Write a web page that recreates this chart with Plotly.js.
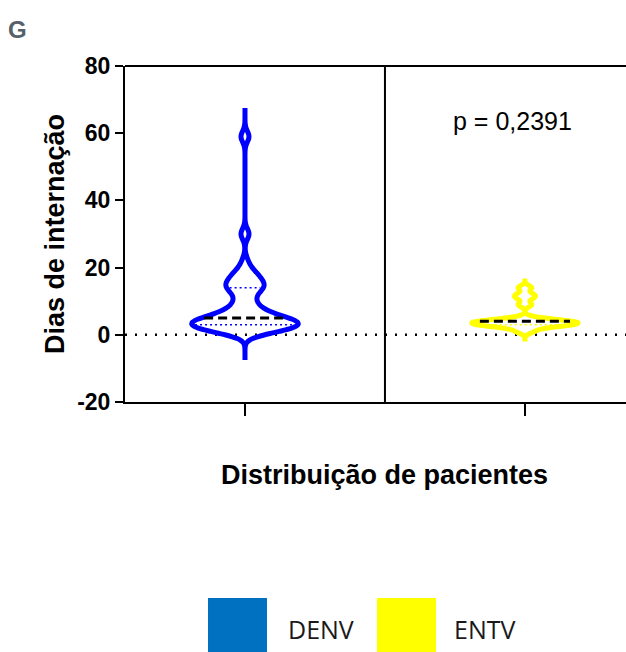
<!DOCTYPE html>
<html>
<head>
<meta charset="utf-8">
<script src="https://cdn.plot.ly/plotly-3.0.1.min.js"></script>
<style>
  html, body { margin: 0; padding: 0; background: #ffffff; }
  #chart { width: 626px; height: 652px; }
</style>
</head>
<body>
<div id="chart"></div>
<script>
// ---- data ----
const categories = ['DENV', 'ENTV'];
const denvDays = [1, 1, 1, 1, 1, 1,
                  2, 2, 2, 2, 2, 2, 2,
                  3, 3, 3, 3, 3, 3, 3, 3,
                  4, 4, 4, 4, 4, 4, 4, 4,
                  5, 5, 5, 5, 5, 5,
                  6, 6, 6, 7, 7, 7, 8, 8, 9, 10, 10, 11, 12, 13, 13,
                  14, 14, 14, 15, 15, 15, 16, 16, 17, 17, 18, 18, 19, 20, 22,
                  30, 30, 59, 59];
const entvDays = [1, 2, 3, 3, 3, 3, 3, 4, 4, 4, 4, 4, 5, 9, 11, 12, 14];
const yTickVals = [-20, 0, 20, 40, 60, 80];
const yTickText = ['-20', '0', '20', '40', '60', '80'];
const pValueText = 'p = 0,2391';
const panelLabel = 'G';
const xTitle = 'Distribuição de pacientes';
const yTitle = 'Dias de internação';

// ---- styling ----
const seriesColors = ['#0000FF', '#FFFF00'];
const legendColors = ['#0070C0', '#FFFF00'];
const bandwidths = [1.6, 0.7];
const spans = [[-7.5, 67.5], [-2, 16]];
const violinWidth = 0.38;
const outlineWidth = 5;
const FONT = 'Liberation Sans, Arial, sans-serif';

// gaussian KDE identical to Plotly's violin kernel
function kde(vals, bw) {
  const n = vals.length;
  return function (t) {
    let s = 0;
    for (const v of vals) {
      const u = (t - v) / bw;
      s += Math.exp(-0.5 * u * u) / Math.sqrt(2 * Math.PI);
    }
    return s / (n * bw);
  };
}
function maxKDE(f, span, bw) {
  const dist = span[1] - span[0];
  const n = Math.ceil(dist / (bw / 3));
  const step = dist / n;
  let m = 0;
  for (let t = span[0]; t < span[1] + step / 2; t += step) m = Math.max(m, f(t));
  return m;
}
// quantile, (n+1)p method
function quantile(vals, p) {
  const s = vals.slice().sort((a, b) => a - b);
  const pos = (s.length + 1) * p - 1;
  const lo = Math.max(0, Math.min(s.length - 1, Math.floor(pos)));
  const hi = Math.max(0, Math.min(s.length - 1, Math.ceil(pos)));
  return s[lo] + (s[hi] - s[lo]) * (pos - Math.floor(pos));
}

const allSeries = [denvDays, entvDays];
const traces = allSeries.map((vals, i) => ({
  type: 'violin',
  name: categories[i],
  x0: categories[i],
  y: vals,
  bandwidth: bandwidths[i],
  spanmode: 'manual',
  span: spans[i],
  width: violinWidth,
  side: 'both',
  points: false,
  box: { visible: false },
  meanline: { visible: false },
  line: { color: seriesColors[i], width: outlineWidth },
  fillcolor: 'rgba(255,255,255,0)',
  hoverinfo: 'skip',
  showlegend: false
}));

const shapes = [];
const pxPerUnit = 280; // approx data->pixel on x, for trimming line ends inside outline
// zero reference line (dotted)
shapes.push({ type: 'line', xref: 'paper', yref: 'y', x0: 0, x1: 1, y0: 0, y1: 0, layer: 'below',
  line: { color: '#000', width: 2.5, dash: '2px,8px' } });

allSeries.forEach((vals, i) => {
  const f = kde(vals, bandwidths[i]);
  const m = maxKDE(f, spans[i], bandwidths[i]);
  const halfW = (t) => Math.max(0, (violinWidth / 2) * f(t) / m - 3 / pxPerUnit);
  const stats = [
    { q: quantile(vals, 0.25), kind: 'quart' },
    { q: quantile(vals, 0.5), kind: 'median' },
    { q: quantile(vals, 0.75), kind: 'quart' }
  ];
  stats.forEach(s => {
    const hw = halfW(s.q);
    shapes.push({
      type: 'line', xref: 'x', yref: 'y',
      x0: i - hw, x1: i + hw, y0: s.q, y1: s.q,
      line: s.kind === 'median'
        ? { color: '#000000', width: 3, dash: '9px,5px' }
        : { color: seriesColors[i], width: 1.5, dash: '2px,3px' }
    });
  });
});

// frame pieces
shapes.push({ type: 'line', xref: 'x', yref: 'paper', x0: 0.5, x1: 0.5, y0: 0, y1: 1,
  line: { color: '#000', width: 2 } });
shapes.push({ type: 'line', xref: 'paper', yref: 'paper', x0: 0, x1: 1, y0: 1, y1: 1,
  line: { color: '#000', width: 2 } });

// legend swatches
const swatchX = [[0.1657, 0.2834], [0.503, 0.6208]];
swatchX.forEach((sx, i) => {
  shapes.push({ type: 'rect', xref: 'paper', yref: 'paper', x0: sx[0], x1: sx[1], y0: -0.5833, y1: -0.75,
    fillcolor: legendColors[i], line: { width: 0 } });
});

const annotations = [
  { text: xTitle, xref: 'x', yref: 'paper', x: 0.5, y: -0.2173, xanchor: 'center', yanchor: 'middle',
    showarrow: false, font: { family: FONT, size: 27, weight: 'bold', color: '#000' } },
  { text: pValueText, xref: 'x', yref: 'y', x: 0.954, y: 63.5, xanchor: 'center', yanchor: 'middle',
    showarrow: false, font: { family: FONT, size: 25, color: '#000' } },
  { text: panelLabel, xref: 'paper', yref: 'paper', x: -0.2146, y: 1.11, xanchor: 'center', yanchor: 'middle',
    showarrow: false, font: { family: FONT, size: 24, weight: 'bold', color: '#56606a' } },
  { text: categories[0], xref: 'paper', yref: 'paper', x: 0.3214, y: -0.6756, xanchor: 'left', yanchor: 'middle',
    showarrow: false, font: { family: 'Open Sans, Noto Sans, sans-serif', size: 25, color: '#1a1a1a' } },
  { text: categories[1], xref: 'paper', yref: 'paper', x: 0.6527, y: -0.6756, xanchor: 'left', yanchor: 'middle',
    showarrow: false, font: { family: 'Open Sans, Noto Sans, sans-serif', size: 25, color: '#1a1a1a' } }
];

const layout = {
  width: 626, height: 652,
  margin: { l: 125, r: 0, t: 66, b: 250, pad: 0 },
  paper_bgcolor: '#ffffff', plot_bgcolor: '#ffffff',
  showlegend: false,
  violinmode: 'overlay',
  xaxis: {
    type: 'category',
    range: [-0.4286, 1.361],
    showticklabels: false,
    ticks: 'outside', ticklen: 12, tickwidth: 2, tickcolor: '#000',
    showline: true, linecolor: '#000', linewidth: 2,
    showgrid: false, zeroline: false, fixedrange: true
  },
  yaxis: {
    range: [-20, 80],
    tickmode: 'array', tickvals: yTickVals, ticktext: yTickText,
    ticks: 'outside', ticklen: 8, tickwidth: 2, tickcolor: '#000',
    showline: true, linecolor: '#000', linewidth: 2,
    showgrid: false, zeroline: false, fixedrange: true,
    tickfont: { family: FONT, size: 23, weight: 'bold', color: '#000' },
    title: { text: yTitle, standoff: 5, font: { family: FONT, size: 27, weight: 'bold', color: '#000' } },
    automargin: false
  },
  shapes: shapes,
  annotations: annotations
};

Plotly.newPlot('chart', traces, layout, { displayModeBar: false, staticPlot: true });
</script>
</body>
</html>
